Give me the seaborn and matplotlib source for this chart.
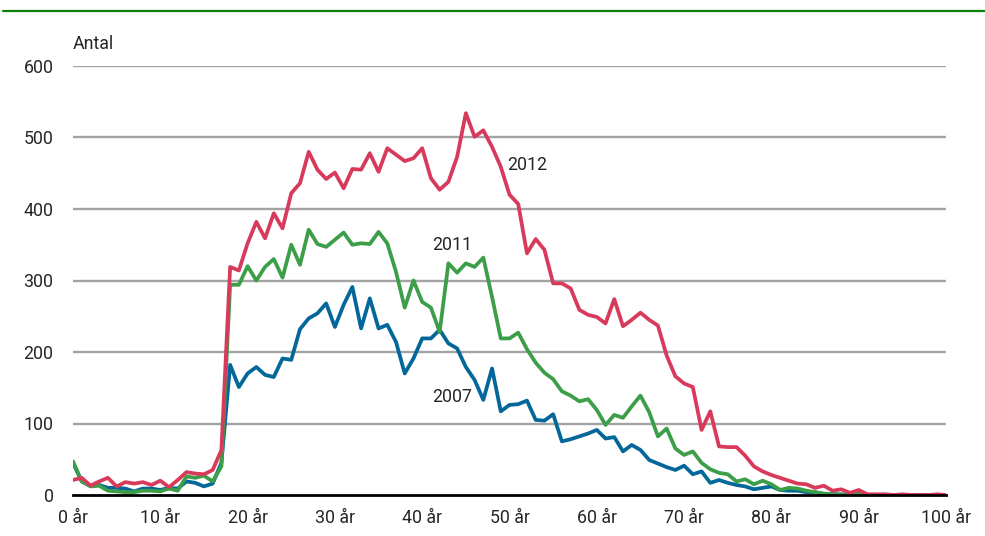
import numpy as np
import pandas as pd
import matplotlib
matplotlib.use("Agg")
import matplotlib.pyplot as plt
import seaborn as sns

ages = list(range(0, 101))

v2012 = [21, 24, 13, 19, 24, 12, 18, 16, 18, 14, 20, 11, 21, 32, 30, 29, 35, 63, 319, 314,
         352, 382, 359, 394, 373, 422, 436, 480, 455, 442, 451, 429, 456, 455, 478, 452, 485, 476, 467, 471,
         485, 443, 427, 438, 473, 534, 501, 510, 487, 459, 420, 407, 338, 358, 343, 296, 296, 289, 259, 252,
         249, 240, 274, 236, 245, 255, 245, 237, 195, 166, 156, 151, 91, 117, 68, 67, 67, 55, 40, 33,
         28, 24, 20, 16, 15, 10, 13, 6, 8, 3, 7, 1, 1, 1, 0, 1, 0, 0, 0, 1, 0]

v2011 = [47, 19, 12, 13, 6, 5, 4, 4, 6, 6, 5, 9, 6, 26, 24, 27, 19, 40, 294, 294,
         320, 300, 319, 330, 304, 350, 322, 371, 351, 347, 357, 367, 350, 352, 351, 368, 352, 312, 262, 300,
         270, 262, 228, 324, 311, 324, 319, 332, 277, 219, 219, 227, 204, 185, 171, 162, 145, 139, 131, 134,
         119, 98, 112, 108, 124, 139, 116, 82, 93, 65, 56, 61, 45, 36, 31, 29, 19, 22, 15, 20,
         15, 7, 10, 9, 6, 4, 2, 1, 0, 1, 2, 0, 0, 0, 0, 0, 0, 0, 0, 0, 0]

v2007 = [45, 19, 13, 14, 10, 10, 9, 5, 9, 9, 7, 10, 9, 19, 17, 12, 16, 45, 182, 151,
         170, 179, 168, 165, 191, 189, 232, 247, 254, 268, 235, 266, 291, 233, 275, 233, 238, 214, 170, 191,
         219, 219, 231, 212, 205, 179, 161, 133, 177, 117, 126, 127, 132, 105, 104, 113, 75, 78, 82, 86,
         91, 79, 81, 61, 70, 63, 49, 44, 39, 35, 41, 29, 33, 17, 21, 17, 14, 12, 8, 10,
         12, 7, 6, 6, 4, 4, 1, 1, 1, 0, 0, 0, 0, 0, 0, 0, 0, 0, 0, 0, 0]

series_names = ["2007", "2011", "2012"]
colors = {"2007": "#03679a", "2011": "#3c9e48", "2012": "#d83a5c"}
xtick_vals = [0, 10, 20, 30, 40, 50, 60, 70, 80, 90, 100]
xtick_labels = [f"{v} år" for v in xtick_vals]
ytick_vals = [0, 100, 200, 300, 400, 500, 600]

df = pd.DataFrame({
    "age": ages * 3,
    "antal": v2007 + v2011 + v2012,
    "year": ["2007"] * 101 + ["2011"] * 101 + ["2012"] * 101,
})

sns.set_theme(style="white")
plt.rcParams["font.family"] = ["Roboto", "DejaVu Sans"]
FS = 12.8

fig = plt.figure(figsize=(9.85, 5.36), dpi=100)
ax = fig.add_axes([73 / 985, 1 - 495 / 536, (946 - 73) / 985, (495 - 66) / 536])

for y in ytick_vals[1:]:
    ax.axhline(y, color="#a3a3a3", lw=1.7, zorder=0)

sns.lineplot(data=df, x="age", y="antal", hue="year", hue_order=series_names,
             palette=colors, lw=2.7, ax=ax, legend=False, zorder=3)

ax.set_xlim(0, 100)
ax.set_ylim(0, 600)
ax.set_xticks(xtick_vals)
ax.set_xticklabels(xtick_labels, fontsize=FS)
ax.set_yticks(ytick_vals)
ax.set_yticklabels([str(v) for v in ytick_vals], fontsize=FS)
ax.tick_params(axis="x", length=0, pad=10)
ax.tick_params(axis="y", length=0, pad=14)
ax.set_xlabel("")
ax.set_ylabel("")
for s in ["top", "right", "left"]:
    ax.spines[s].set_visible(False)
ax.spines["bottom"].set_color("black")
ax.spines["bottom"].set_linewidth(2)
ax.spines["bottom"].set_zorder(4)
ax.patch.set_alpha(0)

ax.text(49.7, 462, "2012", fontsize=FS, ha="left", va="center")
ax.text(41.1, 350, "2011", fontsize=FS, ha="left", va="center")
ax.text(41.1, 137, "2007", fontsize=FS, ha="left", va="center")

fig.text(73 / 985, 1 - 44 / 536, "Antal", fontsize=FS, ha="left", va="center")

fig.add_artist(plt.Line2D([3 / 985, 1.0], [1 - 11 / 536, 1 - 11 / 536], color="#0a800a", lw=1.6))

fig.savefig("out.png", dpi=100)
